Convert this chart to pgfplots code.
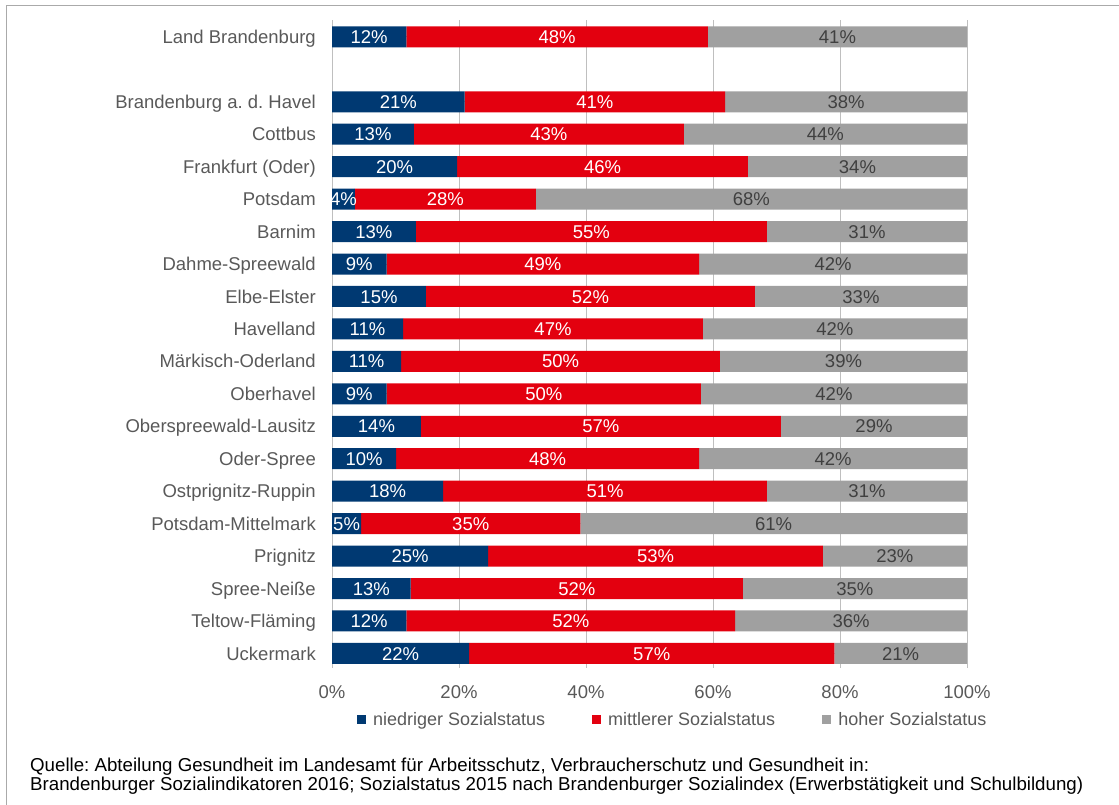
\documentclass[border=0pt]{standalone}
\usepackage{pgfplots}
\pgfplotsset{compat=1.18}
\usepackage{pgfplotstable}
\usepackage{fontspec}
\setmainfont{Liberation Sans}
\frenchspacing
\definecolor{cblue}{RGB}{0,57,114}
\definecolor{cred}{RGB}{227,0,15}
\definecolor{cgray}{RGB}{160,160,160}
\definecolor{tgray}{RGB}{89,89,89}
\definecolor{dgray}{RGB}{64,64,64}
\definecolor{grid}{RGB}{217,217,217}
\definecolor{frame}{RGB}{170,170,170}
\newcommand\fs{\fontsize{18.5}{22}\selectfont}

\pgfplotstableread{
y low mid high llow lmid lhigh
0  11.7 47.5 40.8 12 48 41
2  20.9 41.0 38.1 21 41 38
3  12.9 42.5 44.6 13 43 44
4  19.7 45.8 34.5 20 46 34
5  3.6  28.5 67.9 4  28 68
6  13.2 55.3 31.5 13 55 31
7  8.6  49.2 42.2 9  49 42
8  14.8 51.8 33.4 15 52 33
9  11.2 47.2 41.6 11 47 42
10 10.9 50.2 38.9 11 50 39
11 8.6  49.5 41.9 9  50 42
12 14.0 56.7 29.3 14 57 29
13 10.1 47.7 42.2 10 48 42
14 17.5 51.0 31.5 18 51 31
15 4.6  34.5 60.9 5  35 61
16 24.6 52.7 22.7 25 53 23
17 12.4 52.3 35.3 13 52 35
18 11.7 51.8 36.5 12 52 36
19 21.6 57.5 20.9 22 57 21
}\data

\pgfplotsset{
  sq/.style={legend image code/.code={\fill[##1,draw=none] (0pt,-4.5pt) rectangle (9pt,4.5pt);}},
  geom/.style={at={(332pt,-668pt)}, anchor=south west,
    scale only axis, width=635pt, height=648pt,
    xmin=0, xmax=100, ymin=-0.52, ymax=19.45, y dir=reverse,
    axis line style={draw=none}, major tick length=0pt},
}

\begin{document}
\begin{tikzpicture}
\path[use as bounding box] (0,0) rectangle (1119pt,-805pt);
\draw[frame, line width=1.5pt] (6.5pt,-805pt) -- (6.5pt,-5.5pt) -- (1119pt,-5.5pt);
\begin{axis}[
  geom,
  xbar stacked, bar width=21pt,
  xmajorgrids, grid style={grid, line width=1pt},
  xtick={0,20,40,60,80,100},
  xticklabels={0\%,20\%,40\%,60\%,80\%,100\%},
  xticklabel style={font=\fs, text=tgray, inner sep=0pt, anchor=north, yshift=-17pt},
  ytick={0,2,3,4,5,6,7,8,9,10,11,12,13,14,15,16,17,18,19},
  yticklabels={Land Brandenburg,Brandenburg a. d. Havel,Cottbus,Frankfurt (Oder),Potsdam,Barnim,Dahme-Spreewald,Elbe-Elster,Havelland,Märkisch-Oderland,Oberhavel,Oberspreewald-Lausitz,Oder-Spree,Ostprignitz-Ruppin,Potsdam-Mittelmark,Prignitz,Spree-Neiße,Teltow-Fläming,Uckermark},
  yticklabel style={font=\fs, text=tgray, inner sep=0pt, anchor=base east, xshift=-16pt, yshift=-6.6pt},
  legend columns=3,
  legend style={at={(0.535,-0.080)}, anchor=center, draw=none, fill=none, inner sep=0pt,
    font=\fontsize{18}{21}\selectfont, text=tgray,
    nodes={inner sep=0pt, text=tgray},
    /tikz/every odd column/.append style={column sep=7pt},
    /tikz/every even column/.append style={column sep=47pt}},
]
\addplot[fill=cblue, draw=none, sq] table[x=low, y=y]{\data};
\addplot[fill=cred, draw=none, sq] table[x=mid, y=y]{\data};
\addplot[fill=cgray, draw=none, sq] table[x=high, y=y]{\data};
\legend{niedriger Sozialstatus,mittlerer Sozialstatus,hoher Sozialstatus}
\end{axis}
\begin{axis}[
  geom, xtick=\empty, ytick=\empty,
  point meta=explicit symbolic,
  nodes near coords={\pgfplotspointmeta\%},
  every node near coord/.append style={font=\fs, inner sep=0pt, anchor=base, yshift=-6.6pt},
]
\addplot[draw=none, mark=none, nodes near coords style={text=white}] table[x expr=\thisrow{low}/2, y=y, meta=llow]{\data};
\addplot[draw=none, mark=none, nodes near coords style={text=white}] table[x expr=\thisrow{low}+\thisrow{mid}/2, y=y, meta=lmid]{\data};
\addplot[draw=none, mark=none, nodes near coords style={text=dgray}] table[x expr=\thisrow{low}+\thisrow{mid}+\thisrow{high}/2, y=y, meta=lhigh]{\data};
\end{axis}
\node[anchor=base west, inner sep=0pt, font=\fontsize{18.7}{22}\selectfont, text=black] at (30pt,-771pt) {Quelle: Abteilung Gesundheit im Landesamt für Arbeitsschutz, Verbraucherschutz und Gesundheit in:};
\node[anchor=base west, inner sep=0pt, font=\fontsize{18.7}{22}\selectfont, text=black] at (30pt,-790pt) {Brandenburger Sozialindikatoren 2016; Sozialstatus 2015 nach Brandenburger Sozialindex (Erwerbstätigkeit und Schulbildung)};
\end{tikzpicture}
\end{document}
